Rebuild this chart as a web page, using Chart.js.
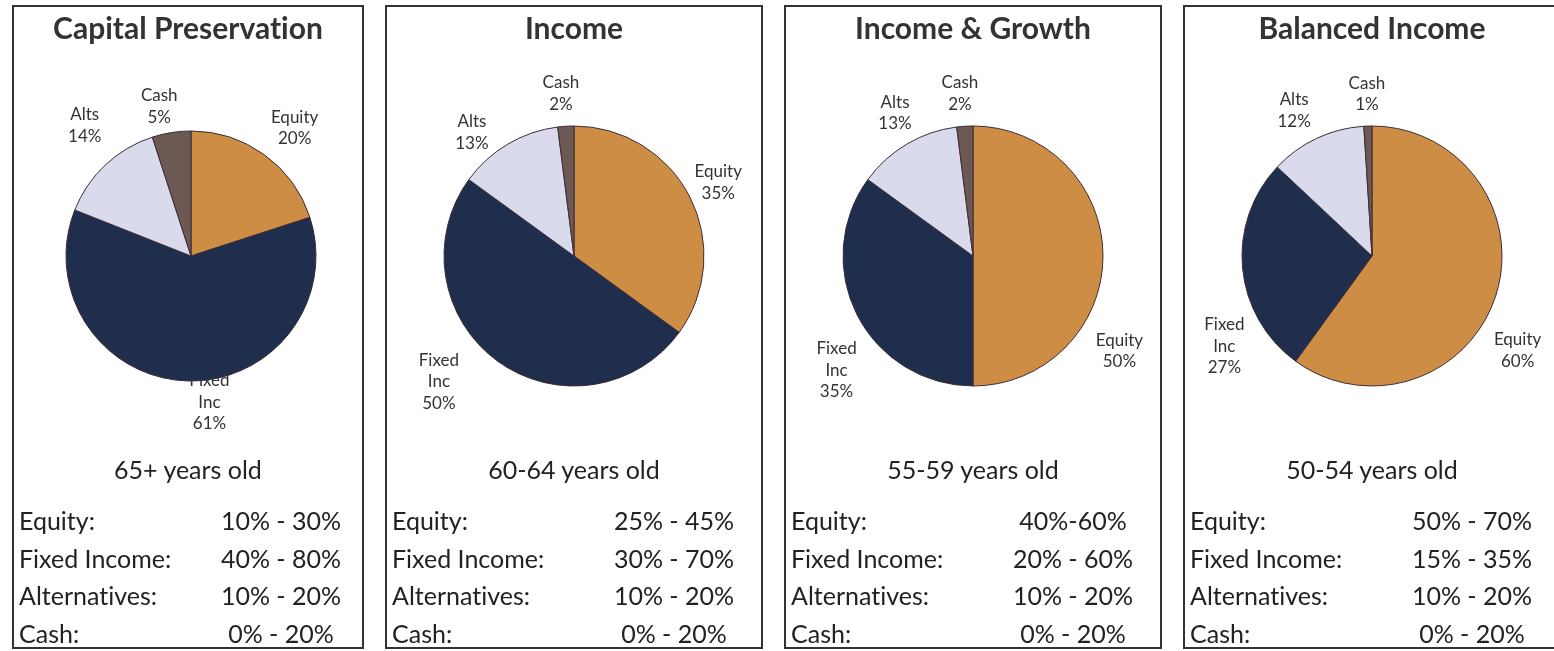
<!DOCTYPE html>
<html>
<head>
<meta charset="utf-8">
<script src="https://cdn.jsdelivr.net/npm/chart.js@4/dist/chart.umd.min.js"></script>
<style>
  body { margin: 0; background: #fff; width: 1554px; height: 651px; overflow: hidden; position: relative; font-family: Lato, sans-serif; color: #222; font-variant-ligatures: none; }
  .panel { position: absolute; top: 5px; height: 644px; box-sizing: border-box; border: 2px solid #333; background: #fff; }
  .panel canvas { position: absolute; left: 0; top: 0; }
  .title { position: absolute; left: 0; right: 0; top: 2px; text-align: center; font-size: 30px; line-height: 1.2; font-weight: bold; color: #333; z-index: 2; }
  .age { position: absolute; left: 0; right: 0; top: 446px; height: 32px; line-height: 32px; text-align: center; font-size: 25px; }
  .rows { position: absolute; left: 0; right: 0; top: 495px; }
  .row { position: relative; height: 37.7px; line-height: 37.7px; font-size: 25px; }
  .row .name { position: absolute; left: 5px; }
  .row .val { position: absolute; width: 160px; text-align: center; }
</style>
</head>
<body>
<script>
// chart values
var panelTitles = ['Capital Preservation', 'Income', 'Income & Growth', 'Balanced Income'];
var ageGroups = ['65+ years old', '60-64 years old', '55-59 years old', '50-54 years old'];
var assetLabels = [['Equity'], ['Fixed', 'Inc'], ['Alts'], ['Cash']];
var equityPct = [20, 35, 50, 60];
var fixedIncPct = [61, 50, 35, 27];
var altsPct = [14, 13, 13, 12];
var cashPct = [5, 2, 2, 1];
var rangeNames = ['Equity:', 'Fixed Income:', 'Alternatives:', 'Cash:'];
var equityRange = ['10% - 30%', '25% - 45%', '40%-60%', '50% - 70%'];
var fixedRange = ['40% - 80%', '30% - 70%', '20% - 60%', '15% - 35%'];
var altsRange = ['10% - 20%', '10% - 20%', '10% - 20%', '10% - 20%'];
var cashRange = ['0% - 20%', '0% - 20%', '0% - 20%', '0% - 20%'];

// layout / style
var panelLeft = [12, 385, 784, 1183];
var panelWidth = [352, 378, 378, 378];
var pieRadius = [125, 130, 130, 130];
var sliceColors = ['#CE8D45', '#1F2E4C', '#D9DAEB', '#6C5954'];
// label placement tweaks (excel "best fit"): angle shift in degrees, gap from the rim in px
var labelShift = [[3, -9, 4, -3], [0, 11, -9, -1], [33, -13, 2, -1], [15, -26, -3, 0]];
var labelGap = [[8, -12, 16, 3], [1, 18, 3, 10], [13, 12, 6, 10], [12, 9, 8, 10]];

// labels are drawn before the slices, so the pie covers them where they overlap (as in excel)
var sliceLabels = {
  id: 'sliceLabels',
  beforeDatasetsDraw(chart, args, opts) {
    var ctx = chart.ctx;
    var meta = chart.getDatasetMeta(0);
    var ds = chart.data.datasets[0];
    ctx.save();
    ctx.font = '17px Lato';
    ctx.fillStyle = '#333';
    ctx.textAlign = 'center';
    ctx.textBaseline = 'middle';
    meta.data.forEach(function (arc, i) {
      var p = arc.getProps(['x', 'y', 'startAngle', 'endAngle', 'outerRadius'], true);
      var mid = (p.startAngle + p.endAngle) / 2 + opts.shift[i] * Math.PI / 180;
      var lines = chart.data.labels[i].concat([ds.data[i] + '%']);
      var lh = 21.5;
      var w = Math.max.apply(null, lines.map(function (l) { return ctx.measureText(l).width; }));
      var h = lines.length * lh;
      var ux = Math.cos(mid), uy = Math.sin(mid);
      var d = p.outerRadius + opts.gap[i] + Math.abs(ux) * w / 2 + Math.abs(uy) * h / 2;
      var cx = p.x + ux * d, cy = p.y + uy * d;
      lines.forEach(function (l, k) {
        ctx.fillText(l, cx, cy + (k - (lines.length - 1) / 2) * lh);
      });
    });
    ctx.restore();
  }
};

for (let i = 0; i < panelTitles.length; i++) {
  var panel = document.createElement('div');
  panel.className = 'panel';
  panel.style.left = panelLeft[i] + 'px';
  panel.style.width = panelWidth[i] + 'px';
  document.body.appendChild(panel);

  var title = document.createElement('div');
  title.className = 'title';
  title.textContent = panelTitles[i];
  panel.appendChild(title);

  var inner = panelWidth[i] - 4;
  var canvas = document.createElement('canvas');
  canvas.width = inner;
  canvas.height = 450;
  canvas.style.width = inner + 'px';
  canvas.style.height = '450px';
  panel.appendChild(canvas);

  new Chart(canvas, {
    type: 'pie',
    data: {
      labels: assetLabels,
      datasets: [{
        data: [equityPct[i], fixedIncPct[i], altsPct[i], cashPct[i]],
        backgroundColor: sliceColors,
        borderColor: '#3d2c38',
        borderWidth: 1,
        radius: pieRadius[i]
      }]
    },
    options: {
      responsive: false,
      animation: false,
      devicePixelRatio: 1,
      layout: { padding: { top: 56, bottom: 8, left: i == 0 ? 6 : 0, right: 0 } },
      plugins: {
        legend: { display: false },
        tooltip: { enabled: false },
        sliceLabels: { shift: labelShift[i], gap: labelGap[i] }
      }
    },
    plugins: [sliceLabels]
  });

  var age = document.createElement('div');
  age.className = 'age';
  age.textContent = ageGroups[i];
  panel.appendChild(age);

  var rows = document.createElement('div');
  rows.className = 'rows';
  var vals = [equityRange[i], fixedRange[i], altsRange[i], cashRange[i]];
  var valCenter = Math.round(inner * 0.768);
  for (let r = 0; r < rangeNames.length; r++) {
    var row = document.createElement('div');
    row.className = 'row';
    var n = document.createElement('span');
    n.className = 'name';
    n.textContent = rangeNames[r];
    var v = document.createElement('span');
    v.className = 'val';
    v.style.left = (valCenter - 80) + 'px';
    v.textContent = vals[r];
    row.appendChild(n);
    row.appendChild(v);
    rows.appendChild(row);
  }
  panel.appendChild(rows);
}
</script>
</body>
</html>
